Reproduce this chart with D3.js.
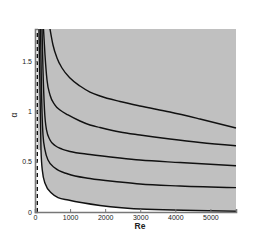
<!DOCTYPE html>
<html lang="en">
<head>
    <meta charset="UTF-8">
    <title>Re - alpha</title>
    <script src="https://cdn.jsdelivr.net/npm/d3@7/dist/d3.min.js"></script>
    <style>
        body { margin: 0; background: #fff; }
        text { font-family: "Liberation Sans", Arial, sans-serif; fill: #222; }
    </style>
</head>
<body>
<svg id="main-svg" width="269" height="240" xmlns="http://www.w3.org/2000/svg"></svg>

<script>
    'use strict';
    // contour lines, lowest (neutral) to highest
    const re1 = [114, 143, 171, 208, 285, 476, 656, 949, 1853, 3184, 5730];
    const al1 = [1.82, 1.213, 0.617, 0.417, 0.286, 0.186, 0.144, 0.119, 0.065, 0.027, 0.008];
    const re2 = [157, 185, 228, 285, 371, 570, 941, 1568, 2423, 2993, 4134, 5730];
    const al2 = [1.82, 1.213, 0.766, 0.617, 0.517, 0.437, 0.378, 0.333, 0.298, 0.278, 0.259, 0.242];
    const re3 = [200, 228, 271, 328, 428, 570, 770, 998, 1568, 2423, 2993, 4134, 5730];
    const al3 = [1.82, 1.412, 1.014, 0.816, 0.716, 0.661, 0.626, 0.602, 0.572, 0.537, 0.517, 0.492, 0.46];
    const re4 = [242, 285, 342, 428, 570, 713, 941, 1283, 1568, 1853, 2423, 2993, 3848, 4704, 5730];
    const al4 = [1.82, 1.561, 1.313, 1.164, 1.064, 1.014, 0.965, 0.905, 0.865, 0.84, 0.796, 0.766, 0.726, 0.691, 0.659];
    const re5 = [428, 513, 627, 770, 998, 1283, 1568, 1853, 2423, 2993, 3848, 4704, 5730];
    const al5 = [1.82, 1.661, 1.532, 1.432, 1.333, 1.253, 1.193, 1.154, 1.099, 1.054, 0.995, 0.925, 0.835];
    const dashRe = 65;
    const stripRe = 75;
    const reMax = 5730, alMax = 1.82;

    const xTicks = [0, 1000, 2000, 3000, 4000, 5000];
    const yTicks = [0, 0.5, 1, 1.5];

    const svg = d3.select('#main-svg');
    const x = d3.scaleLinear().domain([0, reMax]).range([35, 236]);
    const y = d3.scaleLinear().domain([0, alMax]).range([212, 29]);

    const pts = (r, a) => r.map((v, i) => [v, a[i]]);
    const line = d3.line().x(d => x(d[0])).y(d => y(d[1])).curve(d3.curveMonotoneX);
    const fillArea = d3.area().x(d => x(d[0])).y0(d => y(d[1])).y1(y(alMax)).curve(d3.curveMonotoneX);

    // shaded region above the neutral curve
    svg.append('path').attr('d', fillArea(pts(re1, al1))).attr('fill', '#c0c0c0');
    // thin strip between the dashed line and the neutral curve
    svg.append('rect')
        .attr('x', x(stripRe)).attr('y', y(alMax))
        .attr('width', x(re1[2]) - x(stripRe)).attr('height', y(al1[2]) - y(alMax))
        .attr('fill', '#c0c0c0');

    // dashed line
    svg.append('line')
        .attr('x1', x(dashRe)).attr('x2', x(dashRe))
        .attr('y1', y(0)).attr('y2', y(alMax))
        .attr('stroke', '#000').attr('stroke-width', 1.3)
        .attr('stroke-dasharray', '4,3');

    [[re1, al1], [re2, al2], [re3, al3], [re4, al4], [re5, al5]].forEach(c => {
        svg.append('path')
            .attr('d', line(pts(c[0], c[1])))
            .attr('fill', 'none')
            .attr('stroke', '#111')
            .attr('stroke-width', 1.4);
    });

    // axes
    const xAxis = svg.append('g').attr('transform', 'translate(0,212)')
        .call(d3.axisBottom(x).tickValues(xTicks).tickSize(-3).tickPadding(3).tickFormat(d3.format('d')));
    const yAxis = svg.append('g').attr('transform', 'translate(35,0)')
        .call(d3.axisLeft(y).tickValues(yTicks).tickSize(-3).tickPadding(3).tickFormat(d => String(d)));
    [xAxis, yAxis].forEach(g => {
        g.select('.domain').attr('stroke', '#777').attr('stroke-width', 1.6);
        g.selectAll('.tick line').attr('stroke', '#777');
        g.selectAll('.tick text').attr('font-size', 7).attr('fill', '#222')
            .attr('font-family', '"Liberation Sans", Arial, sans-serif');
    });

    svg.append('text')
        .attr('x', 140).attr('y', 228.5)
        .attr('text-anchor', 'middle')
        .attr('font-size', 8.5).attr('font-weight', 'bold')
        .text('Re');
    svg.append('text')
        .attr('transform', 'translate(17,115) rotate(-90)')
        .attr('text-anchor', 'middle')
        .attr('font-size', 8.5)
        .text('α');
</script>
</body>
</html>
